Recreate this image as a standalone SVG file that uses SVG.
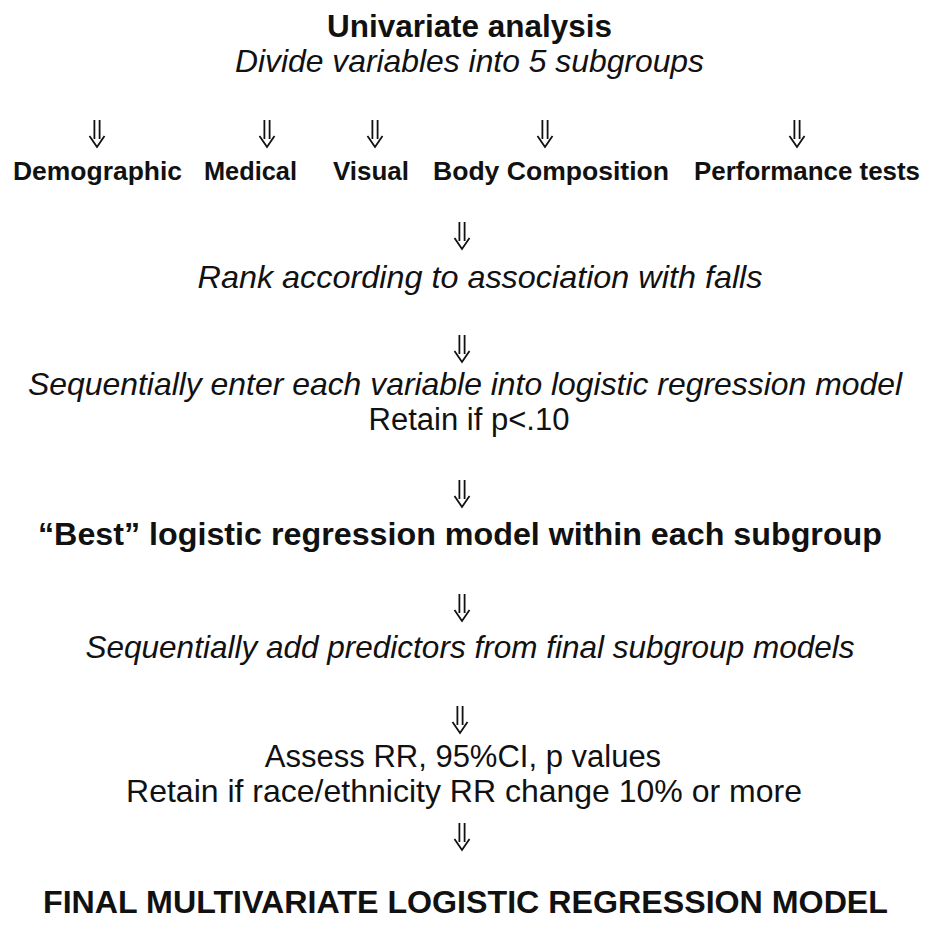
<svg xmlns="http://www.w3.org/2000/svg" width="929" height="925" viewBox="0 0 929 925">
<defs>
<style>
text{font-family:"Liberation Sans",Arial,sans-serif;fill:#111;text-anchor:middle}
.b{font-weight:bold}
.i{font-style:italic}
.arr{fill:none;stroke:#111;stroke-width:1.8;stroke-linejoin:miter}
</style>
<path id="dar" class="arr" d="M-2.6,0 V19 M2.6,0 V19 M-7.5,16 L0,27 L7.5,16"/>
</defs>
<rect width="929" height="925" fill="#fff"/>
<g id="connectors">
<use href="#dar" x="97" y="120"/>
<use href="#dar" x="267" y="120"/>
<use href="#dar" x="375" y="120"/>
<use href="#dar" x="545" y="120"/>
<use href="#dar" x="797" y="120"/>
<use href="#dar" x="462" y="222"/>
<use href="#dar" x="462" y="335"/>
<use href="#dar" x="462" y="480"/>
<use href="#dar" x="462" y="594"/>
<use href="#dar" x="460" y="706"/>
<use href="#dar" x="462" y="823"/>
</g>
<g id="n-univariate">
<text class="b" x="469.5" y="37" font-size="31" textLength="285" lengthAdjust="spacingAndGlyphs">Univariate analysis</text>
<text class="i" x="469.5" y="72" font-size="32" textLength="469" lengthAdjust="spacingAndGlyphs">Divide variables into 5 subgroups</text>
</g>
<g id="n-demographic"><text class="b" x="97.5" y="180" font-size="26.5" textLength="169" lengthAdjust="spacingAndGlyphs">Demographic</text></g>
<g id="n-medical"><text class="b" x="250.5" y="180" font-size="26.5" textLength="93" lengthAdjust="spacingAndGlyphs">Medical</text></g>
<g id="n-visual"><text class="b" x="371" y="180" font-size="26.5" textLength="76" lengthAdjust="spacingAndGlyphs">Visual</text></g>
<g id="n-body"><text class="b" x="551" y="180" font-size="26.5" textLength="236" lengthAdjust="spacingAndGlyphs">Body Composition</text></g>
<g id="n-performance"><text class="b" x="807" y="180" font-size="26" textLength="226" lengthAdjust="spacingAndGlyphs">Performance tests</text></g>
<g id="n-rank"><text class="i" x="480" y="288" font-size="32" textLength="565" lengthAdjust="spacingAndGlyphs">Rank according to association with falls</text></g>
<g id="n-sequential">
<text class="i" x="465" y="395" font-size="32" textLength="874" lengthAdjust="spacingAndGlyphs">Sequentially enter each variable into logistic regression model</text>
<text x="469" y="430" font-size="31">Retain if p&lt;.10</text>
</g>
<g id="n-best"><text class="b" x="460" y="545" font-size="32" textLength="844" lengthAdjust="spacingAndGlyphs">“Best” logistic regression model within each subgroup</text></g>
<g id="n-add"><text class="i" x="470" y="658" font-size="32" textLength="769" lengthAdjust="spacingAndGlyphs">Sequentially add predictors from final subgroup models</text></g>
<g id="n-assess">
<text x="463" y="767" font-size="31">Assess RR, 95%CI, p values</text>
<text x="464" y="802" font-size="32">Retain if race/ethnicity RR change 10% or more</text>
</g>
<g id="n-final"><text class="b" x="465.5" y="913" font-size="31" textLength="845" lengthAdjust="spacingAndGlyphs">FINAL MULTIVARIATE LOGISTIC REGRESSION MODEL</text></g>
</svg>
